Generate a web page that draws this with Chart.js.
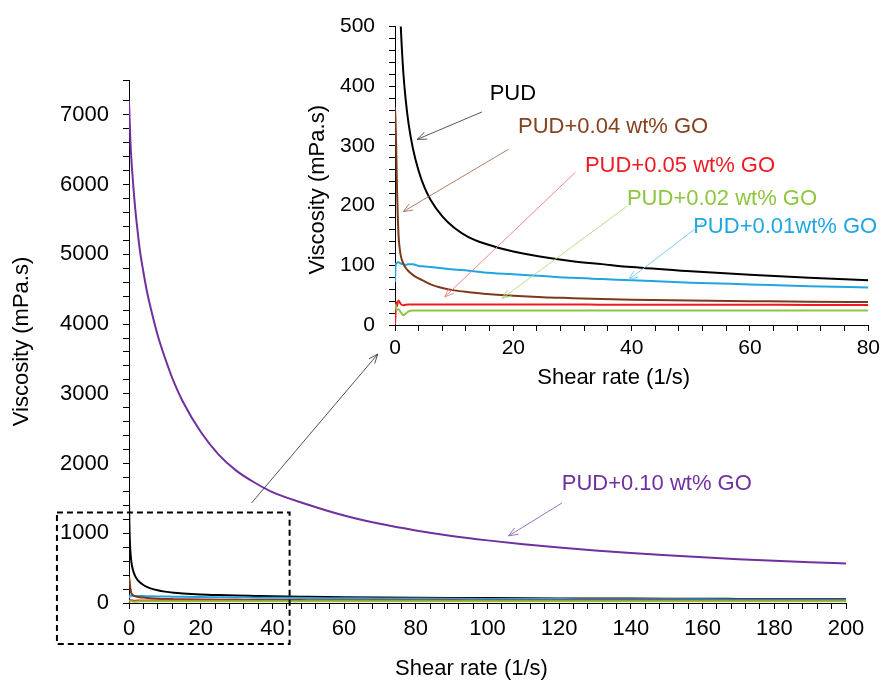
<!DOCTYPE html>
<html>
<head>
<meta charset="utf-8">
<script src="https://cdn.jsdelivr.net/npm/chart.js@4/dist/chart.umd.min.js"></script>
<style>
html, body { margin: 0; padding: 0; background: #ffffff; }
#wrap { position: relative; width: 885px; height: 680px; overflow: hidden; }
#main { position: absolute; left: 0; top: 0; width: 885px; height: 680px; }
#inset { position: absolute; left: 290px; top: 0; width: 595px; height: 400px; }
</style>
</head>
<body>
<div id="wrap">
  <canvas id="main" width="885" height="680"></canvas>
  <canvas id="inset" width="595" height="400"></canvas>
</div>
<script>
// ---------------- DATA ----------------
const shearRate = [0, 0.1, 0.2, 0.3, 0.45, 0.6, 0.8, 1, 1.4, 1.8, 2.3, 3, 4, 5, 6, 8,
  10, 12.5, 15, 20, 25, 30, 35, 40, 50, 60, 70, 80, 90, 100, 110, 120,
  130, 140, 150, 160, 170, 180, 190, 200];

const viscPUD = [1500, 1150, 950, 820, 700, 615, 545, 495, 424, 378, 337, 297, 258, 230, 210, 182,
  163, 147, 137, 123, 114, 107, 102, 97, 90, 84, 79, 75, 72, 70, 68, 66,
  64, 63, 62, 60, 59, 58, 57, 56];

const viscGO001 = [72, 100, 103, 104, 105, 105, 104, 103, 102, 101, 102, 102, 99, 98, 97, 95,
  93, 91, 88, 85, 82, 79, 77, 75, 71, 68, 65, 63, 61, 59, 58, 56,
  55, 54, 53, 52, 51, 50, 50, 49];

const viscGO002 = [30, 34, 28, 26, 26, 26, 24, 21, 16.5, 19, 23, 24.5, 24.5, 24.5, 24.5, 24.5,
  24.5, 24.5, 24.5, 24.5, 24.5, 24.5, 24.5, 24.5, 24.5, 24.5, 24.5, 24.5, 24, 24, 24, 24,
  24, 24, 24, 24, 23.5, 23.5, 23.5, 23.5];

const viscGO004 = [365, 340, 300, 245, 190, 150, 128, 115, 103, 96, 90, 84, 78, 73, 68, 62,
  58, 55, 52.5, 49, 46.5, 45, 43.5, 42.5, 41, 40, 39, 38.5, 38, 37, 36.5, 36,
  35.5, 35, 34.5, 34, 34, 33.5, 33, 33];

const viscGO005 = [0, 22, 38, 31, 37, 41, 38, 35, 33, 34, 34.5, 34.5, 34.5, 34.5, 34.5, 34.5,
  34.5, 34.5, 34.5, 34.5, 34.5, 34.5, 34, 34, 34, 34, 33.5, 33.5, 33.5, 33, 33, 33,
  33, 32.5, 32.5, 32.5, 32.5, 32, 32, 32];

const viscGO010 = [7200, 7050, 6900, 6750, 6550, 6420, 6250, 6120, 5850, 5620, 5380, 5070, 4750, 4470, 4240, 3840,
  3520, 3170, 2890, 2455, 2128, 1895, 1728, 1590, 1410, 1255, 1135, 1040, 962, 898, 843, 795,
  752, 716, 684, 655, 629, 606, 585, 565];

const seriesNames = ['PUD', 'PUD+0.01wt% GO', 'PUD+0.02 wt% GO', 'PUD+0.04 wt% GO', 'PUD+0.05 wt% GO', 'PUD+0.10 wt% GO'];

const mainXTickLabels = [0, 20, 40, 60, 80, 100, 120, 140, 160, 180, 200];
const mainYTickLabels = [0, 1000, 2000, 3000, 4000, 5000, 6000, 7000];
const insetXTickLabels = [0, 20, 40, 60, 80];
const insetYTickLabels = [0, 100, 200, 300, 400, 500];

const xTitle = 'Shear rate (1/s)';
const yTitle = 'Viscosity (mPa.s)';

// ---------------- STYLE ----------------
const FONT = "'Liberation Sans', Arial, Helvetica, sans-serif";
const C = {
  pud: '#000000',
  go001: '#1FA6E0',
  go002: '#8DC63F',
  go004: '#7B3A1B',
  go005: '#ED1C24',
  go010: '#7030A0'
};
Chart.defaults.font.family = FONT;
Chart.defaults.color = '#000';

function pts(arr) { return shearRate.map((x, i) => ({ x: x, y: arr[i] })); }
function ds(label, arr, color, w) {
  return { label: label, data: pts(arr), borderColor: color, backgroundColor: color,
           borderWidth: w, pointRadius: 0, fill: false, cubicInterpolationMode: 'monotone' };
}

function drawArrow(ctx, x1, y1, x2, y2, color, lw) {
  ctx.save();
  ctx.strokeStyle = color; ctx.lineWidth = lw || 0.9;
  ctx.beginPath(); ctx.moveTo(x1, y1); ctx.lineTo(x2, y2); ctx.stroke();
  const ang = Math.atan2(y2 - y1, x2 - x1), L = 10, a = 0.38;
  ctx.beginPath();
  ctx.moveTo(x2 - L * Math.cos(ang - a), y2 - L * Math.sin(ang - a));
  ctx.lineTo(x2, y2);
  ctx.lineTo(x2 - L * Math.cos(ang + a), y2 - L * Math.sin(ang + a));
  ctx.stroke();
  ctx.restore();
}
function drawText(ctx, text, x, y, color, rot) {
  ctx.save();
  ctx.font = '22px ' + FONT;
  ctx.fillStyle = color;
  ctx.textBaseline = 'middle';
  if (rot) {
    ctx.translate(x, y); ctx.rotate(-Math.PI / 2);
    ctx.textAlign = 'center'; ctx.fillText(text, 0, 0);
  } else {
    ctx.textAlign = 'left'; ctx.fillText(text, x, y);
  }
  ctx.restore();
}

// annotation configs (in data coordinates of each chart)
const insetNotes = [
  { text: seriesNames[0], color: '#000000', at: [16.0, 387], from: [14.7, 357], to: [3.75, 311], arrow: '#444444' },
  { text: seriesNames[3], color: '#86421F', at: [20.8, 332], from: [19.2, 294.5], to: [1.4, 190], arrow: '#A8705A' },
  { text: seriesNames[4], color: '#ED1C24', at: [32.1, 267], from: [30.5, 256], to: [8.4, 47], arrow: '#F47A7E' },
  { text: seriesNames[2], color: '#8DC63F', at: [39.2, 211], from: [39.2, 199], to: [18.1, 44.4], arrow: '#B0DA80' },
  { text: seriesNames[1], color: '#1FA6E0', at: [50.4, 164], from: [52.1, 171.6], to: [39.5, 75.9], arrow: '#6CC6EE' }
];
const mainNotes = [
  { text: seriesNames[5], color: '#7030A0', at: [120.7, 1704], from: [120.8, 1435], to: [105.9, 962], arrow: '#9060C0' }
];
const zoomBox = { x: [-20.1, 44.8], y: [-588.5, 1297.6] };
const zoomArrow = { from: [34.2, 1435], to: [69.4, 3570] };

const mainAnnot = {
  id: 'mainAnnot',
  afterDraw(chart) {
    const { ctx, chartArea, scales: { x, y } } = chart;
    ctx.save();
    ctx.strokeStyle = '#000'; ctx.lineWidth = 2; ctx.setLineDash([6, 4]);
    const bx1 = x.getPixelForValue(zoomBox.x[0]), bx2 = x.getPixelForValue(zoomBox.x[1]);
    const by1 = y.getPixelForValue(zoomBox.y[1]), by2 = y.getPixelForValue(zoomBox.y[0]);
    ctx.strokeRect(bx1, by1, bx2 - bx1, by2 - by1);
    ctx.restore();
    drawArrow(ctx, x.getPixelForValue(zoomArrow.from[0]), y.getPixelForValue(zoomArrow.from[1]),
      x.getPixelForValue(zoomArrow.to[0]), y.getPixelForValue(zoomArrow.to[1]), '#222', 0.8);
    mainNotes.forEach(n => {
      drawText(ctx, n.text, x.getPixelForValue(n.at[0]), y.getPixelForValue(n.at[1]), n.color);
      drawArrow(ctx, x.getPixelForValue(n.from[0]), y.getPixelForValue(n.from[1]),
        x.getPixelForValue(n.to[0]), y.getPixelForValue(n.to[1]), n.arrow, 0.9);
    });
    ctx.save();
    ctx.font = '22px ' + FONT; ctx.fillStyle = '#000'; ctx.textAlign = 'center'; ctx.textBaseline = 'middle';
    ctx.fillText(xTitle, (chartArea.left + chartArea.right) / 2 - 16, chartArea.bottom + 66);
    ctx.restore();
  }
};

const insetAnnot = {
  id: 'insetAnnot',
  afterDraw(chart) {
    const { ctx, chartArea, scales: { x, y } } = chart;
    insetNotes.forEach(n => {
      drawText(ctx, n.text, x.getPixelForValue(n.at[0]), y.getPixelForValue(n.at[1]), n.color);
      drawArrow(ctx, x.getPixelForValue(n.from[0]), y.getPixelForValue(n.from[1]),
        x.getPixelForValue(n.to[0]), y.getPixelForValue(n.to[1]), n.arrow, 0.9);
    });
    ctx.save();
    ctx.font = '22px ' + FONT; ctx.fillStyle = '#000'; ctx.textAlign = 'center'; ctx.textBaseline = 'middle';
    ctx.fillText(xTitle, (chartArea.left + chartArea.right) / 2 - 18, chartArea.bottom + 53);
    ctx.restore();
    drawText(ctx, yTitle, chartArea.left - 77, (chartArea.top + chartArea.bottom) / 2 + 14, '#000', true);
  }
};

function axisCommon(labels, step, pad, size) {
  return {
    ticks: { stepSize: step, autoSkip: false, maxRotation: 0, color: '#000', padding: pad,
             font: { size: size, family: FONT },
             callback: v => labels.includes(v) ? String(v) : '' },
    grid: { drawOnChartArea: false, drawTicks: true, tickLength: 6, color: '#000', tickColor: '#000', tickWidth: 1 },
    border: { display: true, color: '#000', width: 1 }
  };
}

// ---------------- MAIN CHART ----------------
const mainX = Object.assign({ type: 'linear', min: 0, max: 200, afterFit: s => { s.height = 77; } },
  axisCommon(mainXTickLabels, 4, 7, 22));
const mainY = Object.assign({ type: 'linear', min: 0, max: 7500, afterFit: s => { s.width = 129; },
  title: { display: true, text: yTitle, color: '#000', font: { size: 22, family: FONT }, padding: { top: 9, bottom: 0 } } },
  axisCommon(mainYTickLabels, 200, 14, 22));

new Chart(document.getElementById('main'), {
  type: 'line',
  data: { datasets: [
    ds(seriesNames[5], viscGO010, C.go010, 2),
    ds(seriesNames[2], viscGO002, C.go002, 2),
    ds(seriesNames[4], viscGO005, C.go005, 2),
    ds(seriesNames[3], viscGO004, C.go004, 2),
    ds(seriesNames[1], viscGO001, C.go001, 2),
    ds(seriesNames[0], viscPUD, C.pud, 2)
  ] },
  options: {
    responsive: false, animation: false, devicePixelRatio: 1,
    layout: { padding: { top: 80, right: 39, left: 0, bottom: 0 } },
    plugins: { legend: { display: false }, tooltip: { enabled: false } },
    scales: { x: mainX, y: mainY }
  },
  plugins: [mainAnnot]
});

// ---------------- INSET CHART ----------------
const insetX = Object.assign({ type: 'linear', min: 0, max: 80, afterFit: s => { s.height = 75; } },
  axisCommon(insetXTickLabels, 4, 5, 21));
const insetY = Object.assign({ type: 'linear', min: 0, max: 500, afterFit: s => { s.width = 105; } },
  axisCommon(insetYTickLabels, 20, 14, 21));

new Chart(document.getElementById('inset'), {
  type: 'line',
  data: { datasets: [
    ds(seriesNames[2], viscGO002, C.go002, 2),
    ds(seriesNames[4], viscGO005, C.go005, 2),
    ds(seriesNames[3], viscGO004, C.go004, 2),
    ds(seriesNames[1], viscGO001, C.go001, 2),
    ds(seriesNames[0], viscPUD, C.pud, 2)
  ] },
  options: {
    responsive: false, animation: false, devicePixelRatio: 1,
    layout: { padding: { top: 24, right: 14, left: 0, bottom: 0 } },
    plugins: { legend: { display: false }, tooltip: { enabled: false } },
    scales: { x: insetX, y: insetY }
  },
  plugins: [insetAnnot]
});
</script>
</body>
</html>
